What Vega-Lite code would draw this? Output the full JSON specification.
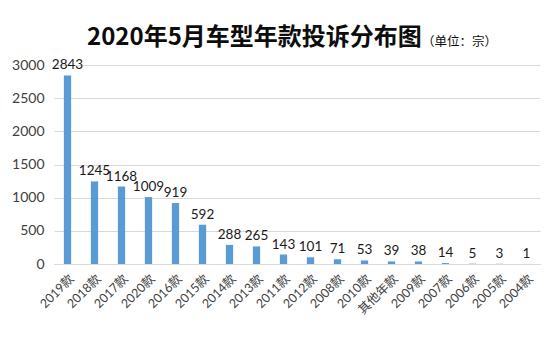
{
  "$schema": "https://vega.github.io/schema/vega-lite/v6.json",
  "autosize": "none",
  "width": 486,
  "height": 199,
  "padding": {"left": 54, "top": 65, "right": 10, "bottom": 89},
  "background": "#ffffff",
  "title": {
    "text": "2020年5月车型年款投诉分布图",
    "subtitle": "（单位：宗）",
    "anchor": "start",
    "align": "left",
    "frame": "group",
    "dx": 33,
    "font": "Noto Sans CJK SC",
    "fontSize": 24,
    "fontWeight": "bold",
    "color": "#0d0d0d",
    "subtitleFont": "Noto Sans CJK SC",
    "subtitleFontSize": 12.5,
    "subtitleColor": "#0d0d0d",
    "subtitlePadding": -14.5,
    "offset": 8,
    "encode": {"subtitle": {"update": {"dx": {"value": 368}}}}
  },
  "data": {
    "values": [
      {"cat": "2019款", "value": 2843},
      {"cat": "2018款", "value": 1245},
      {"cat": "2017款", "value": 1168},
      {"cat": "2020款", "value": 1009},
      {"cat": "2016款", "value": 919},
      {"cat": "2015款", "value": 592},
      {"cat": "2014款", "value": 288},
      {"cat": "2013款", "value": 265},
      {"cat": "2011款", "value": 143},
      {"cat": "2012款", "value": 101},
      {"cat": "2008款", "value": 71},
      {"cat": "2010款", "value": 53},
      {"cat": "其他年款", "value": 39},
      {"cat": "2009款", "value": 38},
      {"cat": "2007款", "value": 14},
      {"cat": "2006款", "value": 5},
      {"cat": "2005款", "value": 3},
      {"cat": "2004款", "value": 1}
    ]
  },
  "encoding": {
    "x": {
      "field": "cat",
      "type": "nominal",
      "sort": null,
      "scale": {"paddingInner": 0.73, "paddingOuter": 0.365},
      "axis": {
        "title": null,
        "labelAngle": -45,
        "labelFont": "Lato, Noto Sans CJK SC",
        "labelFontSize": 12.5,
        "labelColor": "#404040",
        "labelPadding": 8,
        "ticks": false,
        "domainColor": "#d9d9d9",
        "grid": false
      }
    },
    "y": {
      "field": "value",
      "type": "quantitative",
      "scale": {"domain": [0, 3000], "nice": false},
      "axis": {
        "title": null,
        "values": [0, 500, 1000, 1500, 2000, 2500, 3000],
        "format": "d",
        "labelFont": "Lato",
        "labelFontSize": 14,
        "labelColor": "#404040",
        "labelPadding": 10,
        "ticks": false,
        "domain": false,
        "gridColor": "#d9d9d9"
      }
    }
  },
  "layer": [
    {"mark": {"type": "bar", "color": "#5b9bd5"}},
    {
      "mark": {"type": "text", "baseline": "bottom", "dy": -3, "font": "Lato", "fontSize": 13.5, "color": "#1a1a1a"},
      "encoding": {"text": {"field": "value", "type": "quantitative"}}
    }
  ],
  "config": {"view": {"stroke": null}}
}
